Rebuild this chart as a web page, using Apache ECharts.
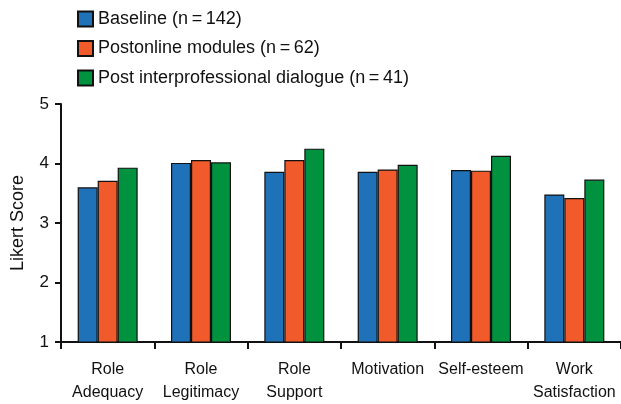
<!DOCTYPE html>
<html><head><meta charset="utf-8">
<script src="https://cdn.jsdelivr.net/npm/echarts@6/dist/echarts.min.js"></script>
<style>html,body{margin:0;padding:0;background:#fff}#c{width:621px;height:404px}</style>
</head><body><div id="c"></div>
<script>
const categories = ['Role\nAdequacy','Role\nLegitimacy','Role\nSupport','Motivation','Self-esteem','Work\nSatisfaction'];
const seriesNames = ['Baseline (n\u2009=\u2009142)','Postonline modules (n\u2009=\u200962)','Post interprofessional dialogue (n\u2009=\u200941)'];
const baseline = [3.60, 4.01, 3.86, 3.86, 3.89, 3.48];
const postOnline = [3.71, 4.06, 4.06, 3.90, 3.88, 3.42];
const postDialogue = [3.93, 4.02, 4.25, 3.98, 4.13, 3.73];
const colors = ['#1f71b8','#f15a2b','#00923f'];
const FONT = '"Liberation Sans Narrow", "Liberation Sans", Arial, sans-serif';
const chart = echarts.init(document.getElementById('c'));
const mk = (name, data, i) => ({
  name, type: 'bar', data, barWidth: 20, barGap: '0%',
  itemStyle: {color: colors[i], borderColor: '#111', borderWidth: 1.2}
});
chart.setOption({
  animation: false,
  textStyle: {fontFamily: FONT, color: '#111'},
  legend: {
    orient: 'vertical', left: 72, top: 5, itemWidth: 15, itemHeight: 15, itemGap: 11.5,
    icon: 'rect',
    textStyle: {fontFamily: FONT, fontSize: 18, color: '#111'},
    data: seriesNames
  },
  grid: {left: 61, right: 0, top: 104, bottom: 62, containLabel: false, outerBoundsMode: 'none'},
  xAxis: {
    type: 'category', data: categories, boundaryGap: true,
    axisLine: {lineStyle: {color: '#111', width: 2}},
    axisTick: {show: true, length: 7, lineStyle: {color: '#111', width: 2}},
    axisLabel: {fontFamily: FONT, fontSize: 16, color: '#111', margin: 16, lineHeight: 23, interval: 0}
  },
  yAxis: {
    type: 'value', min: 1, max: 5, interval: 1,
    name: 'Likert Score', nameLocation: 'middle', nameGap: 34, nameRotate: 90,
    nameTextStyle: {fontFamily: FONT, fontSize: 18, color: '#111'},
    splitLine: {show: false},
    axisLine: {show: true, lineStyle: {color: '#111', width: 2}},
    axisTick: {show: true, length: 6, lineStyle: {color: '#111', width: 2}},
    axisLabel: {fontFamily: FONT, fontSize: 17, color: '#111', margin: 12}
  },
  series: [mk(seriesNames[0], baseline, 0), mk(seriesNames[1], postOnline, 1), mk(seriesNames[2], postDialogue, 2)]
});
</script></body></html>
